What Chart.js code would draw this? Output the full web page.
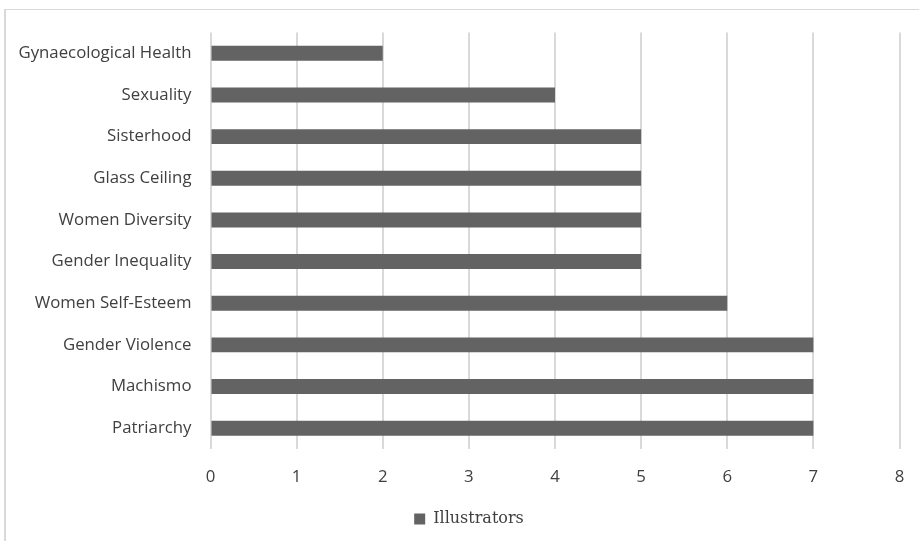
<!DOCTYPE html>
<html>
<head>
<meta charset="utf-8">
<script src="https://cdn.jsdelivr.net/npm/chart.js@4"></script>
<style>
  html, body { margin: 0; padding: 0; background: #ffffff; }
  #wrap { position: relative; width: 919px; height: 541px; overflow: hidden; }
  #frame { position: absolute; left: 4px; top: 9px; width: 920px; height: 540px;
           border-left: 2px solid #d9d9d9; border-top: 1px solid #d9d9d9; box-sizing: border-box; }
  canvas { position: absolute; left: 0; top: 0; }
</style>
</head>
<body>
<div id="wrap">
  <div id="frame"></div>
  <canvas id="c" width="938" height="541"></canvas>
</div>
<script>
const categories = [
  "Gynaecological Health", "Sexuality", "Sisterhood", "Glass Ceiling",
  "Women Diversity", "Gender Inequality", "Women Self-Esteem",
  "Gender Violence", "Machismo", "Patriarchy"
];
const illustrators = [2, 4, 5, 5, 5, 5, 6, 7, 7, 7];
const seriesName = "Illustrators";
const xMin = 0, xMax = 8, xStep = 1;

const barColor = "#636363";
const gridColor = "#d9d9d9";
const labelFont = { family: "'Open Sans', sans-serif", size: 16.8 };

new Chart(document.getElementById("c"), {
  type: "bar",
  data: {
    labels: categories,
    datasets: [{
      label: seriesName,
      data: illustrators,
      backgroundColor: barColor,
      borderWidth: 0,
      categoryPercentage: 0.36,
      barPercentage: 1.0
    }]
  },
  options: {
    indexAxis: "y",
    responsive: false,
    animation: false,
    devicePixelRatio: 1,
    layout: { padding: { top: 32.5, right: 0, left: 0, bottom: 4 } },
    scales: {
      x: {
        min: xMin, max: xMax,
        ticks: { stepSize: xStep, color: "#404040", font: labelFont, padding: 18 },
        grid: { color: gridColor, lineWidth: 2, drawTicks: false },
        border: { display: false },
        afterFit: (s) => { s.height = 52; }
      },
      y: {
        ticks: { color: "#404040", font: labelFont, padding: 19 },
        grid: { display: false, drawTicks: false },
        border: { display: false },
        afterFit: (s) => { s.width = 210.5; }
      },
      spacer: {
        type: "linear",
        position: "right",
        display: true,
        ticks: { display: false },
        grid: { display: false, drawTicks: false },
        border: { display: false },
        afterFit: (s) => { s.width = 38.5; }
      }
    },
    plugins: {
      legend: {
        position: "bottom",
        labels: {
          boxWidth: 11, boxHeight: 11, padding: 10,
          color: "#404040",
          font: { family: "'DejaVu Serif', serif", size: 16 }
        }
      },
      tooltip: { enabled: false }
    }
  }
});
</script>
</body>
</html>
